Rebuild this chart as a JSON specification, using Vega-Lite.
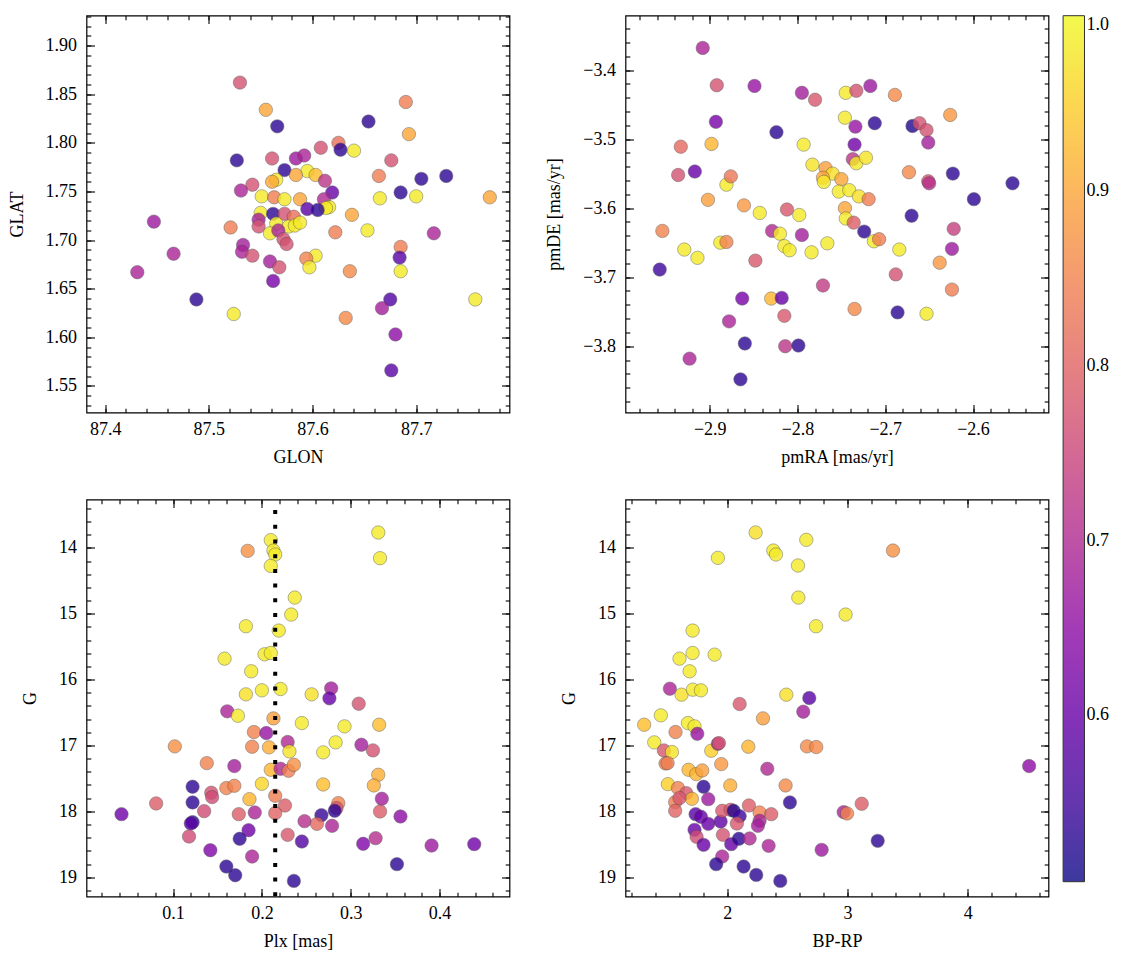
{
"$schema": "https://vega.github.io/schema/vega-lite/v6.json",
"padding": {"left": 6.5, "top": 13.5, "right": 5, "bottom": 5},
"config": {
 "font": "Liberation Serif",
 "view": {"stroke": "black", "strokeWidth": 1.2},
 "axis": {"labelFont": "Liberation Serif", "labelFontSize": 18, "titleFont": "Liberation Serif", "titleFontSize": 18, "titleFontWeight": "normal", "labelColor": "black", "titleColor": "black", "tickColor": "black", "tickWidth": 1.1, "domain": false, "grid": false, "labelOverlap": false, "labelFlush": false, "labelBound": false, "titlePadding": 10},
 "axisY": {"titlePadding": 19},
 "legend": {"labelFont": "Liberation Serif", "labelFontSize": 18, "labelColor": "black", "gradientStrokeColor": "black", "gradientStrokeWidth": 1, "labelOffset": 7, "labelBaseline": "middle"}
},
"datasets": {
 "tl": [
  {"GLON":87.530,"GLAT":1.862,"p":0.77},{"GLON":87.555,"GLAT":1.834,"p":0.90},{"GLON":87.566,"GLAT":1.817,"p":0.53},{"GLON":87.654,"GLAT":1.822,"p":0.53},
  {"GLON":87.690,"GLAT":1.842,"p":0.84},{"GLON":87.693,"GLAT":1.809,"p":0.90},{"GLON":87.625,"GLAT":1.800,"p":0.82},{"GLON":87.627,"GLAT":1.793,"p":0.53},
  {"GLON":87.640,"GLAT":1.792,"p":0.985},{"GLON":87.608,"GLAT":1.795,"p":0.77},{"GLON":87.527,"GLAT":1.782,"p":0.53},{"GLON":87.561,"GLAT":1.784,"p":0.77},
  {"GLON":87.584,"GLAT":1.784,"p":0.67},{"GLON":87.592,"GLAT":1.787,"p":0.69},{"GLON":87.676,"GLAT":1.782,"p":0.77},{"GLON":87.573,"GLAT":1.772,"p":0.53},
  {"GLON":87.595,"GLAT":1.771,"p":0.985},{"GLON":87.603,"GLAT":1.767,"p":0.93},{"GLON":87.584,"GLAT":1.767,"p":0.90},{"GLON":87.664,"GLAT":1.766,"p":0.84},
  {"GLON":87.705,"GLAT":1.763,"p":0.53},{"GLON":87.729,"GLAT":1.766,"p":0.53},{"GLON":87.565,"GLAT":1.762,"p":0.985},{"GLON":87.561,"GLAT":1.760,"p":0.90},
  {"GLON":87.542,"GLAT":1.757,"p":0.77},{"GLON":87.531,"GLAT":1.751,"p":0.69},{"GLON":87.612,"GLAT":1.761,"p":0.72},{"GLON":87.619,"GLAT":1.749,"p":0.60},
  {"GLON":87.685,"GLAT":1.749,"p":0.53},{"GLON":87.665,"GLAT":1.743,"p":0.985},{"GLON":87.700,"GLAT":1.745,"p":0.985},{"GLON":87.771,"GLAT":1.744,"p":0.90},
  {"GLON":87.551,"GLAT":1.745,"p":0.985},{"GLON":87.563,"GLAT":1.744,"p":0.84},{"GLON":87.573,"GLAT":1.742,"p":0.985},{"GLON":87.588,"GLAT":1.742,"p":0.90},
  {"GLON":87.611,"GLAT":1.742,"p":0.70},{"GLON":87.616,"GLAT":1.734,"p":0.985},{"GLON":87.613,"GLAT":1.733,"p":0.985},{"GLON":87.595,"GLAT":1.732,"p":0.58},
  {"GLON":87.605,"GLAT":1.731,"p":0.53},{"GLON":87.550,"GLAT":1.728,"p":0.985},{"GLON":87.562,"GLAT":1.727,"p":0.53},{"GLON":87.573,"GLAT":1.727,"p":0.77},
  {"GLON":87.582,"GLAT":1.724,"p":0.82},{"GLON":87.638,"GLAT":1.726,"p":0.90},{"GLON":87.447,"GLAT":1.719,"p":0.67},{"GLON":87.548,"GLAT":1.721,"p":0.68},
  {"GLON":87.548,"GLAT":1.714,"p":0.77},{"GLON":87.521,"GLAT":1.713,"p":0.84},{"GLON":87.565,"GLAT":1.717,"p":0.985},{"GLON":87.577,"GLAT":1.714,"p":0.985},
  {"GLON":87.583,"GLAT":1.715,"p":0.985},{"GLON":87.588,"GLAT":1.718,"p":0.985},{"GLON":87.559,"GLAT":1.707,"p":0.985},{"GLON":87.567,"GLAT":1.710,"p":0.69},
  {"GLON":87.622,"GLAT":1.708,"p":0.84},{"GLON":87.653,"GLAT":1.710,"p":0.985},{"GLON":87.717,"GLAT":1.707,"p":0.69},{"GLON":87.572,"GLAT":1.701,"p":0.77},
  {"GLON":87.575,"GLAT":1.696,"p":0.77},{"GLON":87.533,"GLAT":1.695,"p":0.68},{"GLON":87.532,"GLAT":1.688,"p":0.69},{"GLON":87.542,"GLAT":1.684,"p":0.77},
  {"GLON":87.466,"GLAT":1.686,"p":0.69},{"GLON":87.685,"GLAT":1.693,"p":0.84},{"GLON":87.684,"GLAT":1.682,"p":0.58},{"GLON":87.603,"GLAT":1.684,"p":0.985},
  {"GLON":87.594,"GLAT":1.681,"p":0.85},{"GLON":87.559,"GLAT":1.678,"p":0.68},{"GLON":87.568,"GLAT":1.672,"p":0.77},{"GLON":87.597,"GLAT":1.672,"p":0.985},
  {"GLON":87.431,"GLAT":1.667,"p":0.69},{"GLON":87.636,"GLAT":1.668,"p":0.86},{"GLON":87.685,"GLAT":1.668,"p":0.985},{"GLON":87.562,"GLAT":1.658,"p":0.62},
  {"GLON":87.488,"GLAT":1.639,"p":0.53},{"GLON":87.675,"GLAT":1.639,"p":0.57},{"GLON":87.667,"GLAT":1.630,"p":0.68},{"GLON":87.757,"GLAT":1.639,"p":0.985},
  {"GLON":87.524,"GLAT":1.624,"p":0.985},{"GLON":87.632,"GLAT":1.620,"p":0.86},{"GLON":87.680,"GLAT":1.603,"p":0.65},{"GLON":87.676,"GLAT":1.566,"p":0.58}
 ],
 "tr": [
  {"pmRA":-2.908,"pmDE":-3.368,"p":0.69},{"pmRA":-2.892,"pmDE":-3.422,"p":0.77},{"pmRA":-2.849,"pmDE":-3.423,"p":0.66},{"pmRA":-2.795,"pmDE":-3.433,"p":0.68},
  {"pmRA":-2.780,"pmDE":-3.443,"p":0.78},{"pmRA":-2.745,"pmDE":-3.433,"p":0.985},{"pmRA":-2.733,"pmDE":-3.430,"p":0.77},{"pmRA":-2.717,"pmDE":-3.423,"p":0.67},
  {"pmRA":-2.689,"pmDE":-3.436,"p":0.86},{"pmRA":-2.626,"pmDE":-3.465,"p":0.88},{"pmRA":-2.746,"pmDE":-3.469,"p":0.985},{"pmRA":-2.893,"pmDE":-3.475,"p":0.62},
  {"pmRA":-2.824,"pmDE":-3.490,"p":0.53},{"pmRA":-2.734,"pmDE":-3.482,"p":0.66},{"pmRA":-2.712,"pmDE":-3.477,"p":0.53},{"pmRA":-2.669,"pmDE":-3.481,"p":0.52},
  {"pmRA":-2.661,"pmDE":-3.477,"p":0.77},{"pmRA":-2.653,"pmDE":-3.487,"p":0.77},{"pmRA":-2.651,"pmDE":-3.505,"p":0.68},{"pmRA":-2.933,"pmDE":-3.511,"p":0.81},
  {"pmRA":-2.898,"pmDE":-3.507,"p":0.92},{"pmRA":-2.793,"pmDE":-3.508,"p":0.985},{"pmRA":-2.735,"pmDE":-3.508,"p":0.61},{"pmRA":-2.737,"pmDE":-3.529,"p":0.72},
  {"pmRA":-2.733,"pmDE":-3.535,"p":0.985},{"pmRA":-2.722,"pmDE":-3.527,"p":0.975},{"pmRA":-2.936,"pmDE":-3.552,"p":0.77},{"pmRA":-2.917,"pmDE":-3.547,"p":0.60},
  {"pmRA":-2.881,"pmDE":-3.566,"p":0.985},{"pmRA":-2.876,"pmDE":-3.554,"p":0.83},{"pmRA":-2.783,"pmDE":-3.537,"p":0.975},{"pmRA":-2.768,"pmDE":-3.542,"p":0.89},
  {"pmRA":-2.760,"pmDE":-3.550,"p":0.97},{"pmRA":-2.771,"pmDE":-3.556,"p":0.90},{"pmRA":-2.770,"pmDE":-3.562,"p":0.985},{"pmRA":-2.750,"pmDE":-3.558,"p":0.90},
  {"pmRA":-2.753,"pmDE":-3.576,"p":0.985},{"pmRA":-2.741,"pmDE":-3.574,"p":0.985},{"pmRA":-2.730,"pmDE":-3.583,"p":0.97},{"pmRA":-2.719,"pmDE":-3.587,"p":0.84},
  {"pmRA":-2.673,"pmDE":-3.548,"p":0.86},{"pmRA":-2.651,"pmDE":-3.561,"p":0.78},{"pmRA":-2.650,"pmDE":-3.564,"p":0.71},{"pmRA":-2.623,"pmDE":-3.550,"p":0.53},
  {"pmRA":-2.599,"pmDE":-3.587,"p":0.53},{"pmRA":-2.555,"pmDE":-3.564,"p":0.53},{"pmRA":-2.902,"pmDE":-3.588,"p":0.89},{"pmRA":-2.861,"pmDE":-3.596,"p":0.88},
  {"pmRA":-2.843,"pmDE":-3.607,"p":0.985},{"pmRA":-2.812,"pmDE":-3.602,"p":0.78},{"pmRA":-2.798,"pmDE":-3.610,"p":0.985},{"pmRA":-2.746,"pmDE":-3.600,"p":0.90},
  {"pmRA":-2.745,"pmDE":-3.615,"p":0.985},{"pmRA":-2.736,"pmDE":-3.621,"p":0.79},{"pmRA":-2.724,"pmDE":-3.634,"p":0.53},{"pmRA":-2.713,"pmDE":-3.648,"p":0.985},
  {"pmRA":-2.707,"pmDE":-3.645,"p":0.84},{"pmRA":-2.670,"pmDE":-3.611,"p":0.53},{"pmRA":-2.954,"pmDE":-3.633,"p":0.85},{"pmRA":-2.829,"pmDE":-3.633,"p":0.70},
  {"pmRA":-2.820,"pmDE":-3.637,"p":0.985},{"pmRA":-2.795,"pmDE":-3.639,"p":0.68},{"pmRA":-2.888,"pmDE":-3.650,"p":0.985},{"pmRA":-2.881,"pmDE":-3.649,"p":0.85},
  {"pmRA":-2.929,"pmDE":-3.660,"p":0.985},{"pmRA":-2.914,"pmDE":-3.672,"p":0.985},{"pmRA":-2.815,"pmDE":-3.655,"p":0.985},{"pmRA":-2.809,"pmDE":-3.661,"p":0.985},
  {"pmRA":-2.784,"pmDE":-3.664,"p":0.985},{"pmRA":-2.766,"pmDE":-3.651,"p":0.985},{"pmRA":-2.684,"pmDE":-3.660,"p":0.985},{"pmRA":-2.622,"pmDE":-3.630,"p":0.74},
  {"pmRA":-2.624,"pmDE":-3.659,"p":0.67},{"pmRA":-2.638,"pmDE":-3.679,"p":0.88},{"pmRA":-2.957,"pmDE":-3.689,"p":0.55},{"pmRA":-2.848,"pmDE":-3.676,"p":0.78},
  {"pmRA":-2.688,"pmDE":-3.696,"p":0.77},{"pmRA":-2.771,"pmDE":-3.712,"p":0.73},{"pmRA":-2.624,"pmDE":-3.718,"p":0.84},{"pmRA":-2.863,"pmDE":-3.731,"p":0.62},
  {"pmRA":-2.830,"pmDE":-3.731,"p":0.92},{"pmRA":-2.818,"pmDE":-3.730,"p":0.60},{"pmRA":-2.815,"pmDE":-3.756,"p":0.78},{"pmRA":-2.735,"pmDE":-3.746,"p":0.86},
  {"pmRA":-2.686,"pmDE":-3.751,"p":0.53},{"pmRA":-2.653,"pmDE":-3.753,"p":0.985},{"pmRA":-2.878,"pmDE":-3.764,"p":0.69},{"pmRA":-2.860,"pmDE":-3.796,"p":0.53},
  {"pmRA":-2.814,"pmDE":-3.800,"p":0.72},{"pmRA":-2.799,"pmDE":-3.799,"p":0.53},{"pmRA":-2.923,"pmDE":-3.818,"p":0.69},{"pmRA":-2.865,"pmDE":-3.848,"p":0.53}
 ],
 "bl": [
  {"Plx":0.331,"G":13.767,"p":0.985},{"Plx":0.333,"G":14.157,"p":0.985},{"Plx":0.210,"G":13.883,"p":0.985},{"Plx":0.213,"G":14.041,"p":0.985},
  {"Plx":0.215,"G":14.101,"p":0.985},{"Plx":0.210,"G":14.274,"p":0.985},{"Plx":0.184,"G":14.046,"p":0.87},{"Plx":0.237,"G":14.755,"p":0.985},
  {"Plx":0.233,"G":15.013,"p":0.985},{"Plx":0.219,"G":15.256,"p":0.985},{"Plx":0.182,"G":15.190,"p":0.985},{"Plx":0.158,"G":15.682,"p":0.985},
  {"Plx":0.203,"G":15.616,"p":0.985},{"Plx":0.210,"G":15.596,"p":0.985},{"Plx":0.188,"G":15.874,"p":0.985},{"Plx":0.182,"G":16.224,"p":0.97},
  {"Plx":0.200,"G":16.163,"p":0.985},{"Plx":0.221,"G":16.143,"p":0.985},{"Plx":0.256,"G":16.224,"p":0.97},{"Plx":0.278,"G":16.133,"p":0.68},
  {"Plx":0.276,"G":16.285,"p":0.60},{"Plx":0.309,"G":16.366,"p":0.77},{"Plx":0.161,"G":16.482,"p":0.69},{"Plx":0.173,"G":16.548,"p":0.985},
  {"Plx":0.213,"G":16.589,"p":0.89},{"Plx":0.245,"G":16.660,"p":0.985},{"Plx":0.293,"G":16.710,"p":0.985},{"Plx":0.332,"G":16.685,"p":0.93},
  {"Plx":0.191,"G":16.796,"p":0.85},{"Plx":0.205,"G":16.812,"p":0.66},{"Plx":0.102,"G":17.014,"p":0.87},{"Plx":0.189,"G":17.019,"p":0.85},
  {"Plx":0.208,"G":17.029,"p":0.91},{"Plx":0.229,"G":16.948,"p":0.70},{"Plx":0.231,"G":17.090,"p":0.975},{"Plx":0.283,"G":16.953,"p":0.985},
  {"Plx":0.269,"G":17.105,"p":0.985},{"Plx":0.312,"G":16.989,"p":0.68},{"Plx":0.325,"G":17.075,"p":0.77},{"Plx":0.138,"G":17.268,"p":0.85},
  {"Plx":0.169,"G":17.313,"p":0.68},{"Plx":0.210,"G":17.369,"p":0.92},{"Plx":0.221,"G":17.354,"p":0.70},{"Plx":0.230,"G":17.384,"p":0.84},
  {"Plx":0.236,"G":17.293,"p":0.87},{"Plx":0.331,"G":17.445,"p":0.91},{"Plx":0.326,"G":17.607,"p":0.91},{"Plx":0.122,"G":17.627,"p":0.53},
  {"Plx":0.160,"G":17.647,"p":0.85},{"Plx":0.169,"G":17.612,"p":0.85},{"Plx":0.200,"G":17.582,"p":0.96},{"Plx":0.269,"G":17.592,"p":0.93},
  {"Plx":0.143,"G":17.718,"p":0.77},{"Plx":0.144,"G":17.784,"p":0.76},{"Plx":0.186,"G":17.815,"p":0.92},{"Plx":0.215,"G":17.764,"p":0.84},
  {"Plx":0.226,"G":17.911,"p":0.79},{"Plx":0.335,"G":17.809,"p":0.68},{"Plx":0.081,"G":17.880,"p":0.79},{"Plx":0.122,"G":17.865,"p":0.53},
  {"Plx":0.135,"G":17.997,"p":0.76},{"Plx":0.174,"G":18.043,"p":0.79},{"Plx":0.192,"G":18.017,"p":0.69},{"Plx":0.215,"G":18.027,"p":0.80},
  {"Plx":0.286,"G":17.875,"p":0.85},{"Plx":0.284,"G":17.951,"p":0.78},{"Plx":0.282,"G":17.992,"p":0.53},{"Plx":0.267,"G":18.058,"p":0.54},
  {"Plx":0.333,"G":18.002,"p":0.79},{"Plx":0.356,"G":18.078,"p":0.65},{"Plx":0.042,"G":18.043,"p":0.61},{"Plx":0.122,"G":18.164,"p":0.53},
  {"Plx":0.120,"G":18.184,"p":0.58},{"Plx":0.248,"G":18.149,"p":0.71},{"Plx":0.262,"G":18.190,"p":0.81},{"Plx":0.279,"G":18.220,"p":0.69},
  {"Plx":0.185,"G":18.286,"p":0.61},{"Plx":0.118,"G":18.382,"p":0.76},{"Plx":0.175,"G":18.417,"p":0.53},{"Plx":0.229,"G":18.357,"p":0.78},
  {"Plx":0.245,"G":18.458,"p":0.57},{"Plx":0.314,"G":18.493,"p":0.63},{"Plx":0.328,"G":18.407,"p":0.71},{"Plx":0.391,"G":18.519,"p":0.67},
  {"Plx":0.439,"G":18.498,"p":0.61},{"Plx":0.142,"G":18.590,"p":0.63},{"Plx":0.189,"G":18.686,"p":0.69},{"Plx":0.160,"G":18.838,"p":0.53},
  {"Plx":0.170,"G":18.970,"p":0.53},{"Plx":0.352,"G":18.802,"p":0.53},{"Plx":0.236,"G":19.056,"p":0.53}
 ],
 "br": [
  {"BPRP":2.236,"G":13.767,"p":0.97},{"BPRP":2.657,"G":13.878,"p":0.985},{"BPRP":2.383,"G":14.041,"p":0.985},{"BPRP":2.405,"G":14.101,"p":0.985},
  {"BPRP":1.922,"G":14.152,"p":0.985},{"BPRP":2.588,"G":14.268,"p":0.985},{"BPRP":3.378,"G":14.041,"p":0.87},{"BPRP":2.591,"G":14.755,"p":0.985},
  {"BPRP":2.984,"G":15.013,"p":0.985},{"BPRP":2.738,"G":15.190,"p":0.985},{"BPRP":1.712,"G":15.256,"p":0.985},{"BPRP":1.603,"G":15.682,"p":0.985},
  {"BPRP":1.712,"G":15.596,"p":0.985},{"BPRP":1.895,"G":15.621,"p":0.985},{"BPRP":1.687,"G":15.874,"p":0.985},{"BPRP":1.523,"G":16.138,"p":0.69},
  {"BPRP":1.620,"G":16.229,"p":0.97},{"BPRP":1.714,"G":16.153,"p":0.985},{"BPRP":1.781,"G":16.163,"p":0.985},{"BPRP":2.491,"G":16.229,"p":0.97},
  {"BPRP":2.682,"G":16.280,"p":0.58},{"BPRP":2.632,"G":16.487,"p":0.68},{"BPRP":2.103,"G":16.371,"p":0.78},{"BPRP":2.297,"G":16.589,"p":0.89},
  {"BPRP":1.448,"G":16.543,"p":0.985},{"BPRP":1.309,"G":16.685,"p":0.93},{"BPRP":1.673,"G":16.660,"p":0.985},{"BPRP":1.728,"G":16.710,"p":0.985},
  {"BPRP":1.751,"G":16.822,"p":0.66},{"BPRP":1.570,"G":16.796,"p":0.85},{"BPRP":1.393,"G":16.953,"p":0.985},{"BPRP":1.473,"G":17.075,"p":0.78},
  {"BPRP":1.540,"G":17.100,"p":0.975},{"BPRP":1.867,"G":17.080,"p":0.95},{"BPRP":1.922,"G":16.974,"p":0.70},{"BPRP":1.931,"G":16.964,"p":0.77},
  {"BPRP":2.175,"G":17.019,"p":0.92},{"BPRP":2.663,"G":17.014,"p":0.86},{"BPRP":2.740,"G":17.024,"p":0.86},{"BPRP":1.487,"G":17.273,"p":0.85},
  {"BPRP":1.504,"G":17.268,"p":0.84},{"BPRP":1.678,"G":17.369,"p":0.92},{"BPRP":1.742,"G":17.435,"p":0.92},{"BPRP":1.792,"G":17.379,"p":0.89},
  {"BPRP":1.950,"G":17.283,"p":0.88},{"BPRP":2.333,"G":17.354,"p":0.70},{"BPRP":1.506,"G":17.587,"p":0.95},{"BPRP":1.803,"G":17.627,"p":0.53},
  {"BPRP":2.025,"G":17.607,"p":0.91},{"BPRP":2.485,"G":17.607,"p":0.86},{"BPRP":1.590,"G":17.647,"p":0.85},{"BPRP":1.659,"G":17.723,"p":0.78},
  {"BPRP":1.706,"G":17.810,"p":0.92},{"BPRP":1.567,"G":17.860,"p":0.84},{"BPRP":1.603,"G":17.799,"p":0.78},{"BPRP":1.842,"G":17.815,"p":0.67},
  {"BPRP":1.567,"G":17.992,"p":0.80},{"BPRP":2.521,"G":17.865,"p":0.53},{"BPRP":3.118,"G":17.885,"p":0.79},{"BPRP":1.737,"G":18.043,"p":0.58},
  {"BPRP":1.781,"G":18.083,"p":0.60},{"BPRP":1.842,"G":18.190,"p":0.60},{"BPRP":1.945,"G":18.154,"p":0.59},{"BPRP":1.958,"G":17.992,"p":0.78},
  {"BPRP":2.028,"G":17.977,"p":0.78},{"BPRP":2.053,"G":17.992,"p":0.52},{"BPRP":2.103,"G":18.073,"p":0.55},{"BPRP":2.080,"G":18.184,"p":0.78},
  {"BPRP":2.180,"G":17.911,"p":0.79},{"BPRP":2.269,"G":18.017,"p":0.85},{"BPRP":2.269,"G":18.144,"p":0.69},{"BPRP":2.255,"G":18.220,"p":0.68},
  {"BPRP":2.366,"G":18.043,"p":0.79},{"BPRP":2.968,"G":18.012,"p":0.69},{"BPRP":2.996,"G":18.032,"p":0.85},{"BPRP":1.728,"G":18.281,"p":0.60},
  {"BPRP":1.745,"G":18.387,"p":0.76},{"BPRP":1.803,"G":18.509,"p":0.60},{"BPRP":1.964,"G":18.357,"p":0.77},{"BPRP":2.033,"G":18.498,"p":0.60},
  {"BPRP":2.097,"G":18.417,"p":0.53},{"BPRP":2.186,"G":18.412,"p":0.70},{"BPRP":2.344,"G":18.524,"p":0.69},{"BPRP":2.785,"G":18.585,"p":0.67},
  {"BPRP":3.251,"G":18.448,"p":0.53},{"BPRP":4.510,"G":17.313,"p":0.65},{"BPRP":1.958,"G":18.686,"p":0.69},{"BPRP":1.908,"G":18.802,"p":0.53},
  {"BPRP":2.136,"G":18.838,"p":0.53},{"BPRP":2.241,"G":18.965,"p":0.53},{"BPRP":2.441,"G":19.056,"p":0.53}
 ],
 "plxline": [{"Plx": 0.215}]
},
"columns": 2,
"bounds": "flush",
"spacing": {"row": 87, "column": 116},
"resolve": {"scale": {"color": "shared"}, "legend": {"color": "shared"}},
"concat": [
 {
  "width": 423, "height": 397,
  "data": {"name": "tl"},
  "layer": [
   {"mark": {"type": "circle", "size": 180, "opacity": 0.8, "stroke": "#444444", "strokeWidth": 0.5},
    "encoding": {
     "x": {"field": "GLON", "type": "quantitative", "scale": {"domain": [87.382, 87.790], "nice": false, "zero": false},
           "axis": {"orient": "bottom", "values": [87.4, 87.5, 87.6, 87.7], "format": ".1f", "tickSize": -8, "labelPadding": 16, "title": "GLON"}},
     "y": {"field": "GLAT", "type": "quantitative", "scale": {"domain": [1.5227, 1.931], "nice": false, "zero": false},
           "axis": {"orient": "left", "values": [1.55, 1.6, 1.65, 1.7, 1.75, 1.8, 1.85, 1.9], "format": ".2f", "tickSize": -8, "labelPadding": 18, "title": "GLAT"}},
     "color": {"field": "p", "type": "quantitative", "scale": {"scheme": "plasma", "domain": [0.505, 1.0]},
               "legend": {"orient": "none", "legendX": 976.6, "legendY": 0.2, "title": null, "values": [0.6, 0.7, 0.8, 0.9, 1.0], "format": ".1f", "direction": "vertical", "gradientLength": 866, "gradientThickness": 21.4, "gradientOpacity": 0.8}}
    }},
   {"mark": {"type": "point", "opacity": 0},
    "encoding": {
     "x": {"field": "GLON", "type": "quantitative", "axis": {"orient": "bottom", "values": [87.40,87.42,87.44,87.46,87.48,87.50,87.52,87.54,87.56,87.58,87.60,87.62,87.64,87.66,87.68,87.70,87.72,87.74,87.76,87.78], "tickSize": -4.3, "labels": false, "title": null}},
     "y": {"field": "GLAT", "type": "quantitative", "axis": {"orient": "left", "values": [1.53,1.54,1.55,1.56,1.57,1.58,1.59,1.60,1.61,1.62,1.63,1.64,1.65,1.66,1.67,1.68,1.69,1.70,1.71,1.72,1.73,1.74,1.75,1.76,1.77,1.78,1.79,1.80,1.81,1.82,1.83,1.84,1.85,1.86,1.87,1.88,1.89,1.90,1.91,1.92,1.93], "tickSize": -4.3, "labels": false, "title": null}}
    }},
   {"mark": {"type": "point", "opacity": 0},
    "encoding": {
     "x": {"field": "GLON", "type": "quantitative", "axis": {"orient": "top", "values": [87.4, 87.5, 87.6, 87.7], "tickSize": -8, "labels": false, "title": null}},
     "y": {"field": "GLAT", "type": "quantitative", "axis": {"orient": "right", "values": [1.55, 1.6, 1.65, 1.7, 1.75, 1.8, 1.85, 1.9], "tickSize": -8, "labels": false, "title": null}}
    }},
   {"mark": {"type": "point", "opacity": 0},
    "encoding": {
     "x": {"field": "GLON", "type": "quantitative", "axis": {"orient": "top", "values": [87.40,87.42,87.44,87.46,87.48,87.50,87.52,87.54,87.56,87.58,87.60,87.62,87.64,87.66,87.68,87.70,87.72,87.74,87.76,87.78], "tickSize": -4.3, "labels": false, "title": null}},
     "y": {"field": "GLAT", "type": "quantitative", "axis": {"orient": "right", "values": [1.53,1.54,1.55,1.56,1.57,1.58,1.59,1.60,1.61,1.62,1.63,1.64,1.65,1.66,1.67,1.68,1.69,1.70,1.71,1.72,1.73,1.74,1.75,1.76,1.77,1.78,1.79,1.80,1.81,1.82,1.83,1.84,1.85,1.86,1.87,1.88,1.89,1.90,1.91,1.92,1.93], "tickSize": -4.3, "labels": false, "title": null}}
    }}
  ],
  "resolve": {"axis": {"x": "independent", "y": "independent"}}
 },
 {
  "width": 423, "height": 397,
  "data": {"name": "tr"},
  "layer": [
   {"mark": {"type": "circle", "size": 180, "opacity": 0.8, "stroke": "#444444", "strokeWidth": 0.5},
    "encoding": {
     "x": {"field": "pmRA", "type": "quantitative", "scale": {"domain": [-2.996, -2.514], "nice": false, "zero": false},
           "axis": {"orient": "bottom", "values": [-2.9, -2.8, -2.7, -2.6], "format": ".1f", "tickSize": -8, "labelPadding": 16, "title": "pmRA [mas/yr]"}},
     "y": {"field": "pmDE", "type": "quantitative", "scale": {"domain": [-3.896, -3.321], "nice": false, "zero": false},
           "axis": {"orient": "left", "values": [-3.8, -3.7, -3.6, -3.5, -3.4], "format": ".1f", "tickSize": -8, "labelPadding": 18, "title": "pmDE [mas/yr]"}},
     "color": {"field": "p", "type": "quantitative", "scale": {"scheme": "plasma", "domain": [0.505, 1.0]},
               "legend": {"orient": "none", "legendX": 976.6, "legendY": 0.2, "title": null, "values": [0.6, 0.7, 0.8, 0.9, 1.0], "format": ".1f", "direction": "vertical", "gradientLength": 866, "gradientThickness": 21.4, "gradientOpacity": 0.8}}
    }},
   {"mark": {"type": "point", "opacity": 0},
    "encoding": {
     "x": {"field": "pmRA", "type": "quantitative", "axis": {"orient": "bottom", "values": [-2.98,-2.96,-2.94,-2.92,-2.90,-2.88,-2.86,-2.84,-2.82,-2.80,-2.78,-2.76,-2.74,-2.72,-2.70,-2.68,-2.66,-2.64,-2.62,-2.60,-2.58,-2.56,-2.54,-2.52], "tickSize": -4.3, "labels": false, "title": null}},
     "y": {"field": "pmDE", "type": "quantitative", "axis": {"orient": "left", "values": [-3.88,-3.86,-3.84,-3.82,-3.80,-3.78,-3.76,-3.74,-3.72,-3.70,-3.68,-3.66,-3.64,-3.62,-3.60,-3.58,-3.56,-3.54,-3.52,-3.50,-3.48,-3.46,-3.44,-3.42,-3.40,-3.38,-3.36,-3.34], "tickSize": -4.3, "labels": false, "title": null}}
    }},
   {"mark": {"type": "point", "opacity": 0},
    "encoding": {
     "x": {"field": "pmRA", "type": "quantitative", "axis": {"orient": "top", "values": [-2.9, -2.8, -2.7, -2.6], "tickSize": -8, "labels": false, "title": null}},
     "y": {"field": "pmDE", "type": "quantitative", "axis": {"orient": "right", "values": [-3.8, -3.7, -3.6, -3.5, -3.4], "tickSize": -8, "labels": false, "title": null}}
    }},
   {"mark": {"type": "point", "opacity": 0},
    "encoding": {
     "x": {"field": "pmRA", "type": "quantitative", "axis": {"orient": "top", "values": [-2.98,-2.96,-2.94,-2.92,-2.90,-2.88,-2.86,-2.84,-2.82,-2.80,-2.78,-2.76,-2.74,-2.72,-2.70,-2.68,-2.66,-2.64,-2.62,-2.60,-2.58,-2.56,-2.54,-2.52], "tickSize": -4.3, "labels": false, "title": null}},
     "y": {"field": "pmDE", "type": "quantitative", "axis": {"orient": "right", "values": [-3.88,-3.86,-3.84,-3.82,-3.80,-3.78,-3.76,-3.74,-3.72,-3.70,-3.68,-3.66,-3.64,-3.62,-3.60,-3.58,-3.56,-3.54,-3.52,-3.50,-3.48,-3.46,-3.44,-3.42,-3.40,-3.38,-3.36,-3.34], "tickSize": -4.3, "labels": false, "title": null}}
    }}
  ],
  "resolve": {"axis": {"x": "independent", "y": "independent"}}
 },
 {
  "width": 423, "height": 397,
  "layer": [
   {"data": {"name": "bl"},
    "mark": {"type": "circle", "size": 180, "opacity": 0.8, "stroke": "#444444", "strokeWidth": 0.5},
    "encoding": {
     "x": {"field": "Plx", "type": "quantitative", "scale": {"domain": [0.0026, 0.4787], "nice": false, "zero": false},
           "axis": {"orient": "bottom", "values": [0.1, 0.2, 0.3, 0.4], "format": ".1f", "tickSize": -8, "labelPadding": 16, "title": "Plx [mas]"}},
     "y": {"field": "G", "type": "quantitative", "scale": {"domain": [13.266, 19.293], "reverse": true, "nice": false, "zero": false},
           "axis": {"orient": "left", "values": [14, 15, 16, 17, 18, 19], "format": "d", "tickSize": -8, "labelPadding": 18, "title": "G"}},
     "color": {"field": "p", "type": "quantitative", "scale": {"scheme": "plasma", "domain": [0.505, 1.0]},
               "legend": {"orient": "none", "legendX": 976.6, "legendY": 0.2, "title": null, "values": [0.6, 0.7, 0.8, 0.9, 1.0], "format": ".1f", "direction": "vertical", "gradientLength": 866, "gradientThickness": 21.4, "gradientOpacity": 0.8}}
    }},
   {"data": {"name": "bl"},
    "mark": {"type": "point", "opacity": 0},
    "encoding": {
     "x": {"field": "Plx", "type": "quantitative", "axis": {"orient": "bottom", "values": [0.02,0.04,0.06,0.08,0.10,0.12,0.14,0.16,0.18,0.20,0.22,0.24,0.26,0.28,0.30,0.32,0.34,0.36,0.38,0.40,0.42,0.44,0.46], "tickSize": -4.3, "labels": false, "title": null}},
     "y": {"field": "G", "type": "quantitative", "axis": {"orient": "left", "values": [13.4,13.6,13.8,14.0,14.2,14.4,14.6,14.8,15.0,15.2,15.4,15.6,15.8,16.0,16.2,16.4,16.6,16.8,17.0,17.2,17.4,17.6,17.8,18.0,18.2,18.4,18.6,18.8,19.0,19.2], "tickSize": -4.3, "labels": false, "title": null}}
    }},
   {"data": {"name": "bl"},
    "mark": {"type": "point", "opacity": 0},
    "encoding": {
     "x": {"field": "Plx", "type": "quantitative", "axis": {"orient": "top", "values": [0.1, 0.2, 0.3, 0.4], "tickSize": -8, "labels": false, "title": null}},
     "y": {"field": "G", "type": "quantitative", "axis": {"orient": "right", "values": [14, 15, 16, 17, 18, 19], "tickSize": -8, "labels": false, "title": null}}
    }},
   {"data": {"name": "bl"},
    "mark": {"type": "point", "opacity": 0},
    "encoding": {
     "x": {"field": "Plx", "type": "quantitative", "axis": {"orient": "top", "values": [0.02,0.04,0.06,0.08,0.10,0.12,0.14,0.16,0.18,0.20,0.22,0.24,0.26,0.28,0.30,0.32,0.34,0.36,0.38,0.40,0.42,0.44,0.46], "tickSize": -4.3, "labels": false, "title": null}},
     "y": {"field": "G", "type": "quantitative", "axis": {"orient": "right", "values": [13.4,13.6,13.8,14.0,14.2,14.4,14.6,14.8,15.0,15.2,15.4,15.6,15.8,16.0,16.2,16.4,16.6,16.8,17.0,17.2,17.4,17.6,17.8,18.0,18.2,18.4,18.6,18.8,19.0,19.2], "tickSize": -4.3, "labels": false, "title": null}}
    }},
   {"data": {"name": "plxline"},
    "mark": {"type": "rule", "color": "black", "strokeWidth": 4, "strokeDash": [4, 10.7], "strokeDashOffset": 4.1, "strokeCap": "butt"},
    "encoding": {
     "x": {"field": "Plx", "type": "quantitative", "axis": null}
    }}
  ],
  "resolve": {"axis": {"x": "independent", "y": "independent"}}
 },
 {
  "width": 423, "height": 397,
  "data": {"name": "br"},
  "layer": [
   {"mark": {"type": "circle", "size": 180, "opacity": 0.8, "stroke": "#444444", "strokeWidth": 0.5},
    "encoding": {
     "x": {"field": "BPRP", "type": "quantitative", "scale": {"domain": [1.154, 4.671], "nice": false, "zero": false},
           "axis": {"orient": "bottom", "values": [2, 3, 4], "format": "d", "tickSize": -8, "labelPadding": 16, "title": "BP-RP"}},
     "y": {"field": "G", "type": "quantitative", "scale": {"domain": [13.266, 19.293], "reverse": true, "nice": false, "zero": false},
           "axis": {"orient": "left", "values": [14, 15, 16, 17, 18, 19], "format": "d", "tickSize": -8, "labelPadding": 18, "title": "G"}},
     "color": {"field": "p", "type": "quantitative", "scale": {"scheme": "plasma", "domain": [0.505, 1.0]},
               "legend": {"orient": "none", "legendX": 976.6, "legendY": 0.2, "title": null, "values": [0.6, 0.7, 0.8, 0.9, 1.0], "format": ".1f", "direction": "vertical", "gradientLength": 866, "gradientThickness": 21.4, "gradientOpacity": 0.8}}
    }},
   {"mark": {"type": "point", "opacity": 0},
    "encoding": {
     "x": {"field": "BPRP", "type": "quantitative", "axis": {"orient": "bottom", "values": [1.2,1.4,1.6,1.8,2.0,2.2,2.4,2.6,2.8,3.0,3.2,3.4,3.6,3.8,4.0,4.2,4.4,4.6], "tickSize": -4.3, "labels": false, "title": null}},
     "y": {"field": "G", "type": "quantitative", "axis": {"orient": "left", "values": [13.4,13.6,13.8,14.0,14.2,14.4,14.6,14.8,15.0,15.2,15.4,15.6,15.8,16.0,16.2,16.4,16.6,16.8,17.0,17.2,17.4,17.6,17.8,18.0,18.2,18.4,18.6,18.8,19.0,19.2], "tickSize": -4.3, "labels": false, "title": null}}
    }},
   {"mark": {"type": "point", "opacity": 0},
    "encoding": {
     "x": {"field": "BPRP", "type": "quantitative", "axis": {"orient": "top", "values": [2, 3, 4], "tickSize": -8, "labels": false, "title": null}},
     "y": {"field": "G", "type": "quantitative", "axis": {"orient": "right", "values": [14, 15, 16, 17, 18, 19], "tickSize": -8, "labels": false, "title": null}}
    }},
   {"mark": {"type": "point", "opacity": 0},
    "encoding": {
     "x": {"field": "BPRP", "type": "quantitative", "axis": {"orient": "top", "values": [1.2,1.4,1.6,1.8,2.0,2.2,2.4,2.6,2.8,3.0,3.2,3.4,3.6,3.8,4.0,4.2,4.4,4.6], "tickSize": -4.3, "labels": false, "title": null}},
     "y": {"field": "G", "type": "quantitative", "axis": {"orient": "right", "values": [13.4,13.6,13.8,14.0,14.2,14.4,14.6,14.8,15.0,15.2,15.4,15.6,15.8,16.0,16.2,16.4,16.6,16.8,17.0,17.2,17.4,17.6,17.8,18.0,18.2,18.4,18.6,18.8,19.0,19.2], "tickSize": -4.3, "labels": false, "title": null}}
    }}
  ],
  "resolve": {"axis": {"x": "independent", "y": "independent"}}
 }
]
}
